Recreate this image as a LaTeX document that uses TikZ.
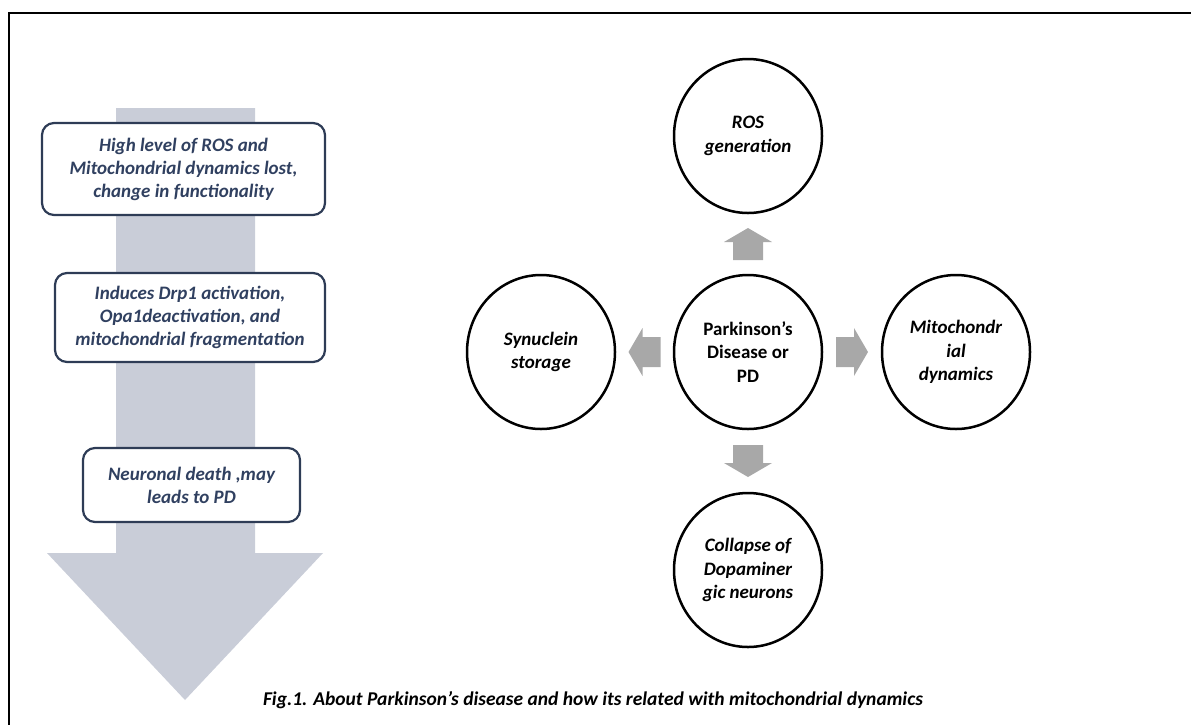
\documentclass[tikz,border=0pt]{standalone}
\usepackage{fontspec}
\setmainfont{Carlito}
\usetikzlibrary{shapes.geometric,calc}
\definecolor{bigarrow}{RGB}{201,205,216}
\definecolor{boxline}{RGB}{46,60,86}
\definecolor{boxtext}{RGB}{48,64,96}
\definecolor{smallarrow}{RGB}{168,168,168}
\begin{document}
\begin{tikzpicture}[x=1pt,y=-1pt,
  stepbox/.style={draw=boxline, line width=2.2pt, rounded corners=12pt, fill=white, text=boxtext,
    font=\fontsize{19}{23}\selectfont\bfseries\itshape, align=center, inner sep=0pt},
  circ/.style={ellipse, draw=black, line width=2.5pt, minimum width=148pt, minimum height=154pt,
    inner sep=0pt, align=center, font=\fontsize{19}{23.5}\selectfont\bfseries\itshape},
  caption/.style={font=\fontsize{19.5}{22}\selectfont\bfseries\itshape},
  fatarrow/.pic={\fill[smallarrow] (-16,-15) -- (2,-15) -- (2,-24) -- (16,0) -- (2,24) -- (2,15) -- (-16,15) -- cycle;}
]
\useasboundingbox (0,0) rectangle (1191,724);
% frame
\draw[line width=2.5pt] (9,730) -- (9,13) -- (1200,13);
% big arrow
\fill[bigarrow] (116,108) -- (255,108) -- (255,553) -- (323,553) -- (185,700) -- (47,553) -- (116,553) -- cycle;
% boxes
\node[stepbox, minimum width=283pt, minimum height=92pt] (b1) at (183.5,169)
  {High level of ROS and\\Mitochondrial dynamics lost,\\change in functionality};
\node[stepbox, minimum width=270pt, minimum height=89pt] (b2) at (190,317.5)
  {Induces Drp1 activation,\\Opa1deactivation, and\\mitochondrial fragmentation};
\node[stepbox, minimum width=217pt, minimum height=74pt] (b3) at (191.5,485)
  {Neuronal death ,may\\leads to PD};
% circles
\node[circ] (ros) at (748,136) {ROS\\generation};
\node[circ, font=\fontsize{19}{23.5}\selectfont\bfseries] (pd) at (748,352) {Parkinson’s\\Disease or\\PD};
\node[circ] (syn) at (541,352) {Synuclein\\storage};
\node[circ] (mito) at (956,352) {Mitochondr\\ial\\dynamics};
\node[circ] (col) at (748,570) {Collapse of\\Dopaminer\\gic neurons};
% fat arrows between circles
\path (pd) -- (ros) coordinate[midway] (m1);
\path (pd) -- (syn) coordinate[midway] (m2);
\path (pd) -- (mito) coordinate[midway] (m3);
\path (pd) -- (col) coordinate[midway] (m4);
\pic[rotate=90] at (m1) {fatarrow};
\pic[rotate=180] at (m2) {fatarrow};
\pic at (m3) {fatarrow};
\pic[rotate=270] at (m4) {fatarrow};
% caption
\node[caption] (cap) at (593,700) {Fig.1. About Parkinson’s disease and how its related with mitochondrial dynamics};
\end{tikzpicture}
\end{document}
